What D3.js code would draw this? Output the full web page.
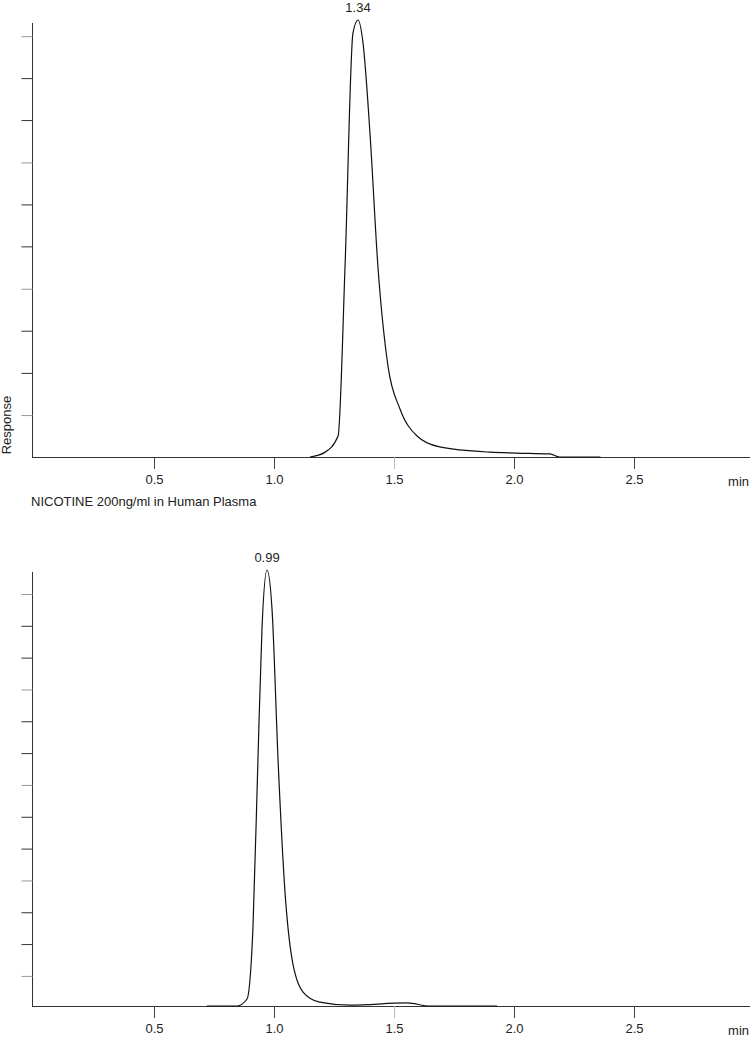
<!DOCTYPE html>
<html><head><meta charset="utf-8">
<script src="https://cdn.jsdelivr.net/npm/d3@7"></script>
<style>body{margin:0;background:#fff}svg{display:block}</style>
</head><body>
<svg id="c" width="750" height="1037"></svg>
<script>
// Data: retention time (min), relative response (% of peak)
const topTime = [1.15,1.21,1.267,1.296,1.329,1.35,1.371,1.40,1.433,1.475,1.525,1.596,1.69,1.90,2.01,2.15,2.19,2.36];
const topResp = [0,1,4.8,43.6,97,100,94.7,74,43.6,20.8,11,4.8,2.3,1.1,0.9,0.7,0,0];
const botTime = [0.72,0.846,0.8875,0.9125,0.933,0.95,0.971,0.992,1.017,1.046,1.075,1.121,1.19,1.317,1.554,1.65,1.93];
const botResp = [0,0,1.6,18.3,56.3,86.7,100,90.8,56.3,26,10.8,3.2,0.9,0.2,0.7,0,0];
const xTicks = [0.5,1.0,1.5,2.0,2.5];
const topYTicks = [9.6,19.25,28.9,38.5,48.2,57.8,67.4,77.1,86.7,96.3];
const botYTicks = [6.9,14.2,21.5,28.8,36.1,43.4,50.7,58.0,65.3,72.6,79.9,87.2,94.5];
const topPeakLabel = "1.34", botPeakLabel = "0.99";
const titleText = "NICOTINE 200ng/ml in Human Plasma";

const svg = d3.select("#c");
const font = "Liberation Sans, Arial, sans-serif";

function panel(times, resp, yTicks, label, y0, y1, axisTop){
  const x = d3.scaleLinear().domain([0,3]).range([34,754]);
  const y = d3.scaleLinear().domain([0,100]).range([y0,y1]);
  const g = svg.append("g");
  g.append("line").attr("x1",32.5).attr("x2",32.5).attr("y1",axisTop).attr("y2",y0).attr("stroke","#333");
  g.append("line").attr("x1",32).attr("x2",750).attr("y1",y0+0.5).attr("y2",y0+0.5).attr("stroke","#333");
  const yAx = d3.axisLeft(y).tickValues(yTicks).tickSize(11).tickFormat("");
  const ya = g.append("g").attr("transform","translate(32.5,0)").call(yAx);
  ya.select(".domain").remove();
  ya.selectAll("line").attr("stroke",(d,i)=> i%3===0 ? "#999" : "#333");
  const xAx = d3.axisBottom(x).tickValues(xTicks).tickSize(12).tickFormat(d3.format(".1f"));
  const xa = g.append("g").attr("transform",`translate(0,${y0})`).call(xAx);
  xa.select(".domain").remove();
  xa.selectAll("line").attr("stroke",(d,i)=> i===2 ? "#bbb" : "#444");
  xa.selectAll("text").attr("y",18).attr("font-family",font).attr("font-size",13).attr("fill","#222");
  g.append("text").attr("x",749).attr("y",y0+29).attr("text-anchor","end").attr("font-family",font).attr("font-size",13).attr("fill","#222").text("min");
  const pts = times.map((t,i)=>[t,resp[i]]);
  g.append("path").datum(pts)
    .attr("d", d3.line().x(d=>x(d[0])).y(d=>y(d[1])).curve(d3.curveMonotoneX))
    .attr("fill","none").attr("stroke","#111").attr("stroke-width",1.2);
  const pi = resp.indexOf(d3.max(resp));
  g.append("text").attr("x",x(times[pi])).attr("y",y(100)-8).attr("text-anchor","middle")
    .attr("font-family",font).attr("font-size",13).attr("fill","#222").text(label);
}
panel(topTime, topResp, topYTicks, topPeakLabel, 457, 20, 23);
panel(botTime, botResp, botYTicks, botPeakLabel, 1006, 570, 572);

svg.append("text").attr("transform","translate(11,425) rotate(-90)").attr("text-anchor","middle")
  .attr("font-family",font).attr("font-size",13).attr("fill","#222").text("Response");
svg.append("text").attr("x",31).attr("y",506).attr("font-family",font).attr("font-size",13).attr("fill","#222").text(titleText);
</script>
</body></html>
